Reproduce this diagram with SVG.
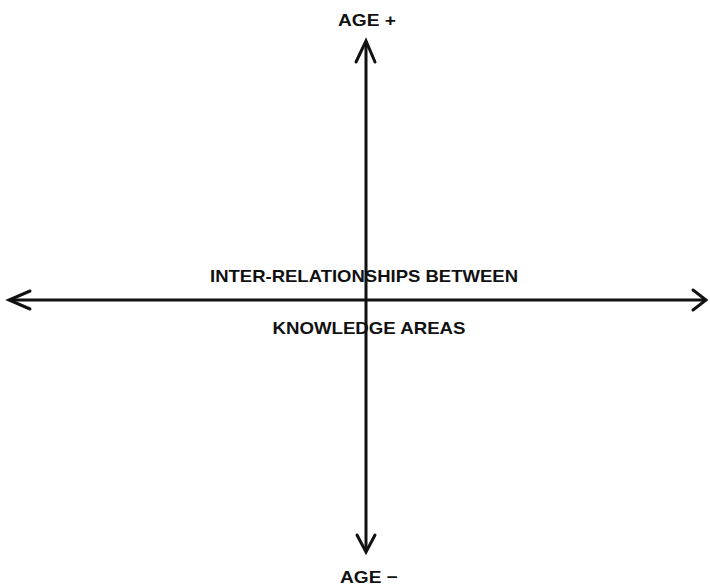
<svg xmlns="http://www.w3.org/2000/svg" width="710" height="588" viewBox="0 0 710 588">
  <style>
    .axis { stroke: #111; stroke-width: 3; fill: none; stroke-linecap: round; stroke-linejoin: round; }
    .head { stroke: #111; stroke-width: 3; fill: none; stroke-linecap: round; stroke-linejoin: miter; }
    .lbl { font-family: "Liberation Sans", Arial, sans-serif; font-weight: bold; font-size: 17px; fill: #111; text-anchor: middle; }
  </style>
  <rect width="710" height="588" fill="#fff"/>
  <g id="connectors">
    <!-- vertical axis: age -->
    <line class="axis" x1="366" y1="42" x2="366" y2="551"/>
    <polyline class="head" points="356,62 366,41 375,62"/>
    <polyline class="head" points="357,535 366,552 375,535"/>
    <!-- horizontal axis: inter-relationships -->
    <line class="axis" x1="10" y1="300" x2="705" y2="300"/>
    <polyline class="head" points="30,291 9,300 30,309"/>
    <polyline class="head" points="693,290 706,300 693,310"/>
  </g>
  <g id="age-plus">
    <text class="lbl" x="367" y="26" textLength="58" lengthAdjust="spacingAndGlyphs">AGE +</text>
  </g>
  <g id="age-minus">
    <text class="lbl" x="369" y="583" textLength="58" lengthAdjust="spacingAndGlyphs">AGE −</text>
  </g>
  <g id="inter-relationships">
    <text class="lbl" x="364" y="282" textLength="308" lengthAdjust="spacingAndGlyphs">INTER-RELATIONSHIPS BETWEEN</text>
    <text class="lbl" x="369" y="334" textLength="193" lengthAdjust="spacingAndGlyphs">KNOWLEDGE AREAS</text>
  </g>
</svg>
